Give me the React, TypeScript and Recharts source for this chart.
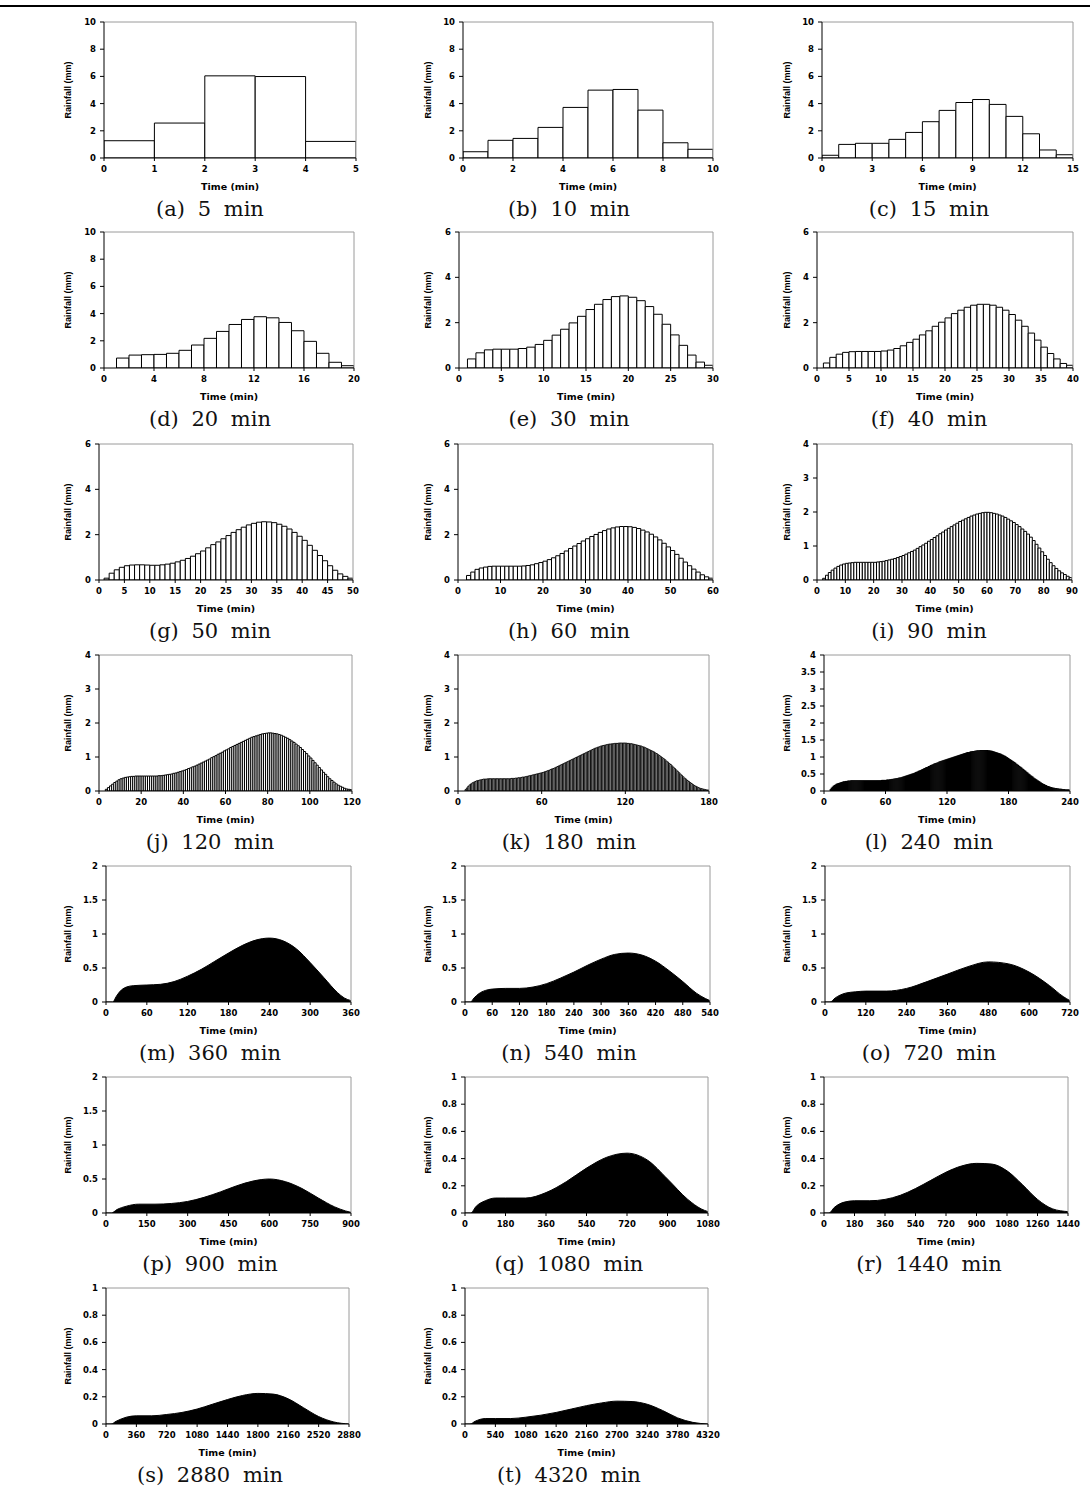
import React from "react";
import { ComposedChart, Bar, Area, XAxis, YAxis, ReferenceLine } from "recharts";

// (a)-(l): one bar per minute, rainfall in mm
const rain5 = [1.27, 2.57, 6.04, 5.99, 1.22];
const rain10 = [0.46, 1.3, 1.44, 2.25, 3.72, 4.99, 5.04, 3.52, 1.12, 0.64];
const rain15 = [0.2, 1.0, 1.08, 1.08, 1.37, 1.88, 2.67, 3.5, 4.08, 4.3, 3.94, 3.06, 1.78, 0.59, 0.24];
const rain20 = [0, 0.73, 0.95, 0.98, 1.0, 1.08, 1.3, 1.69, 2.18, 2.69, 3.2, 3.57, 3.77, 3.69, 3.35, 2.74, 1.96, 1.08, 0.42, 0.17];
const rain30 = [
  0, 0.4, 0.67, 0.8, 0.83, 0.83, 0.83, 0.86, 0.92, 1.04, 1.22, 1.45, 1.71, 1.99, 2.28,
  2.58, 2.81, 3.02, 3.15, 3.18, 3.12, 2.97, 2.71, 2.37, 1.93, 1.46, 1.0, 0.57, 0.26, 0.12,
];
const rain40 = [
  0, 0.22, 0.47, 0.61, 0.69, 0.72, 0.73, 0.73, 0.73, 0.73,
  0.75, 0.79, 0.86, 0.98, 1.13, 1.27, 1.46, 1.64, 1.84, 2.02,
  2.21, 2.4, 2.55, 2.68, 2.77, 2.81, 2.81, 2.77, 2.68, 2.55,
  2.36, 2.11, 1.84, 1.54, 1.23, 0.92, 0.64, 0.4, 0.2, 0.12,
];
const rain50 = [
  0, 0.08, 0.3, 0.45, 0.56, 0.63, 0.66, 0.67, 0.67, 0.66,
  0.65, 0.65, 0.67, 0.7, 0.74, 0.8, 0.87, 0.95, 1.05, 1.16,
  1.28, 1.42, 1.56, 1.68, 1.82, 1.96, 2.1, 2.22, 2.33, 2.43,
  2.5, 2.55, 2.57, 2.56, 2.53, 2.46, 2.37, 2.25, 2.1, 1.93,
  1.75, 1.53, 1.31, 1.08, 0.85, 0.63, 0.43, 0.27, 0.16, 0.08,
];
const rain60 = [
  0, 0, 0.2, 0.35, 0.47, 0.53, 0.57, 0.6, 0.61, 0.61,
  0.61, 0.61, 0.61, 0.61, 0.61, 0.62, 0.64, 0.67, 0.72, 0.77,
  0.83, 0.9, 0.98, 1.07, 1.17, 1.28, 1.39, 1.5, 1.61, 1.72,
  1.82, 1.92, 2.01, 2.1, 2.18, 2.25, 2.3, 2.34, 2.36, 2.36,
  2.35, 2.32, 2.27, 2.2, 2.12, 2.02, 1.9, 1.77, 1.62, 1.46,
  1.3, 1.13, 0.96, 0.79, 0.63, 0.48, 0.35, 0.23, 0.14, 0.08,
];
const rain90 = [
  0, 0, 0.05, 0.14, 0.22, 0.29, 0.35, 0.4, 0.44, 0.47,
  0.49, 0.5, 0.51, 0.52, 0.52, 0.52, 0.52, 0.52, 0.52, 0.52,
  0.52, 0.53, 0.54, 0.55, 0.57, 0.59, 0.61, 0.63, 0.66, 0.69,
  0.72, 0.76, 0.8, 0.84, 0.88, 0.93, 0.98, 1.03, 1.08, 1.14,
  1.19, 1.25, 1.3, 1.36, 1.41, 1.47, 1.52, 1.57, 1.62, 1.67,
  1.72, 1.76, 1.8, 1.84, 1.88, 1.91, 1.94, 1.96, 1.98, 1.99,
  1.99, 1.98, 1.96, 1.94, 1.91, 1.88, 1.84, 1.79, 1.74, 1.69,
  1.63, 1.57, 1.5, 1.43, 1.35, 1.26, 1.16, 1.05, 0.94, 0.83,
  0.72, 0.61, 0.51, 0.42, 0.34, 0.27, 0.21, 0.16, 0.11, 0.07,
];
const rain120 = [
  0, 0, 0, 0.05, 0.1, 0.15, 0.2, 0.25, 0.29, 0.33,
  0.36, 0.38, 0.4, 0.41, 0.42, 0.43, 0.43, 0.44, 0.44, 0.44,
  0.44, 0.44, 0.44, 0.44, 0.44, 0.44, 0.44, 0.44, 0.45, 0.45,
  0.46, 0.47, 0.48, 0.49, 0.5, 0.52, 0.53, 0.55, 0.57, 0.59,
  0.61, 0.63, 0.66, 0.68, 0.71, 0.73, 0.76, 0.79, 0.82, 0.85,
  0.88, 0.91, 0.94, 0.98, 1.01, 1.04, 1.08, 1.11, 1.14, 1.18,
  1.21, 1.24, 1.28, 1.31, 1.34, 1.37, 1.4, 1.43, 1.46, 1.49,
  1.52, 1.55, 1.58, 1.6, 1.62, 1.64, 1.66, 1.68, 1.69, 1.7,
  1.71, 1.71, 1.7, 1.69, 1.68, 1.66, 1.64, 1.61, 1.58, 1.55,
  1.51, 1.47, 1.43, 1.38, 1.33, 1.28, 1.22, 1.16, 1.1, 1.03,
  0.97, 0.9, 0.83, 0.76, 0.69, 0.62, 0.55, 0.49, 0.42, 0.36,
  0.31, 0.26, 0.21, 0.17, 0.14, 0.11, 0.08, 0.06, 0.05, 0.04,
];
const rain180 = [
  0, 0, 0, 0, 0, 0.04, 0.09, 0.14, 0.18, 0.21,
  0.24, 0.26, 0.28, 0.3, 0.31, 0.32, 0.33, 0.34, 0.35, 0.35,
  0.35, 0.36, 0.36, 0.36, 0.36, 0.36, 0.36, 0.36, 0.36, 0.36,
  0.36, 0.36, 0.36, 0.36, 0.36, 0.36, 0.36, 0.36, 0.37, 0.37,
  0.37, 0.38, 0.38, 0.39, 0.39, 0.4, 0.41, 0.41, 0.42, 0.43,
  0.44, 0.45, 0.46, 0.47, 0.48, 0.49, 0.5, 0.51, 0.52, 0.53,
  0.54, 0.55, 0.57, 0.58, 0.6, 0.61, 0.63, 0.65, 0.66, 0.68,
  0.7, 0.72, 0.74, 0.76, 0.78, 0.8, 0.82, 0.84, 0.86, 0.88,
  0.9, 0.92, 0.94, 0.96, 0.98, 1.0, 1.02, 1.04, 1.06, 1.08,
  1.1, 1.12, 1.14, 1.16, 1.18, 1.2, 1.22, 1.24, 1.26, 1.27,
  1.29, 1.3, 1.32, 1.33, 1.34, 1.35, 1.36, 1.37, 1.38, 1.38,
  1.39, 1.39, 1.4, 1.4, 1.4, 1.41, 1.41, 1.41, 1.41, 1.41,
  1.41, 1.4, 1.4, 1.39, 1.39, 1.38, 1.37, 1.36, 1.35, 1.34,
  1.33, 1.32, 1.3, 1.29, 1.27, 1.25, 1.23, 1.21, 1.19, 1.17,
  1.15, 1.12, 1.1, 1.07, 1.04, 1.01, 0.98, 0.95, 0.92, 0.88,
  0.85, 0.81, 0.78, 0.74, 0.7, 0.66, 0.62, 0.58, 0.54, 0.5,
  0.46, 0.42, 0.38, 0.35, 0.31, 0.28, 0.25, 0.22, 0.19, 0.16,
  0.14, 0.12, 0.1, 0.08, 0.07, 0.06, 0.05, 0.04, 0.03, 0.03,
];
const rain240 = [
  0, 0, 0, 0, 0, 0, 0.04, 0.08, 0.11, 0.14,
  0.16, 0.18, 0.2, 0.21, 0.22, 0.23, 0.24, 0.25, 0.26, 0.27,
  0.27, 0.28, 0.28, 0.29, 0.29, 0.29, 0.3, 0.3, 0.3, 0.3,
  0.3, 0.3, 0.3, 0.3, 0.3, 0.3, 0.3, 0.3, 0.3, 0.3,
  0.3, 0.3, 0.3, 0.3, 0.3, 0.3, 0.3, 0.3, 0.3, 0.3,
  0.3, 0.3, 0.3, 0.3, 0.3, 0.3, 0.31, 0.31, 0.31, 0.31,
  0.31, 0.32, 0.32, 0.32, 0.33, 0.33, 0.34, 0.34, 0.35, 0.35,
  0.36, 0.36, 0.37, 0.38, 0.38, 0.39, 0.4, 0.41, 0.42, 0.43,
  0.44, 0.45, 0.46, 0.47, 0.48, 0.49, 0.5, 0.51, 0.52, 0.54,
  0.55, 0.56, 0.58, 0.59, 0.6, 0.62, 0.63, 0.65, 0.66, 0.68,
  0.69, 0.7, 0.72, 0.73, 0.75, 0.76, 0.77, 0.79, 0.8, 0.81,
  0.82, 0.83, 0.85, 0.86, 0.87, 0.88, 0.89, 0.9, 0.91, 0.92,
  0.93, 0.94, 0.95, 0.96, 0.97, 0.98, 0.99, 1.0, 1.01, 1.02,
  1.03, 1.04, 1.05, 1.06, 1.07, 1.08, 1.09, 1.1, 1.11, 1.12,
  1.13, 1.13, 1.14, 1.15, 1.15, 1.16, 1.16, 1.17, 1.17, 1.18,
  1.18, 1.18, 1.19, 1.19, 1.19, 1.19, 1.19, 1.19, 1.19, 1.19,
  1.18, 1.18, 1.17, 1.17, 1.16, 1.15, 1.14, 1.13, 1.12, 1.11,
  1.1, 1.09, 1.08, 1.06, 1.05, 1.03, 1.02, 1.0, 0.98, 0.96,
  0.94, 0.92, 0.9, 0.88, 0.86, 0.84, 0.82, 0.79, 0.77, 0.75,
  0.72, 0.7, 0.68, 0.65, 0.63, 0.6, 0.58, 0.55, 0.53, 0.5,
  0.48, 0.45, 0.43, 0.41, 0.38, 0.36, 0.34, 0.32, 0.3, 0.28,
  0.26, 0.24, 0.22, 0.2, 0.19, 0.17, 0.16, 0.14, 0.13, 0.12,
  0.11, 0.1, 0.09, 0.08, 0.08, 0.07, 0.07, 0.06, 0.06, 0.05,
  0.05, 0.05, 0.04, 0.04, 0.04, 0.03, 0.03, 0.03, 0.03, 0.03,
];

// (m)-(t): the bars are too dense to tell apart, so the outline is read at a few times
const time360 = [0, 10, 15, 20, 30, 40, 60, 80, 100, 120, 140, 160, 180, 200, 220, 240, 260, 280, 300, 320, 340, 350, 360];
const rain360 = [0, 0, 0.08, 0.15, 0.22, 0.24, 0.25, 0.26, 0.3, 0.38, 0.48, 0.6, 0.72, 0.83, 0.91, 0.94, 0.9, 0.78, 0.58, 0.36, 0.14, 0.06, 0.02];
const time540 = [0, 12, 20, 30, 45, 60, 90, 120, 150, 180, 210, 240, 270, 300, 330, 360, 390, 420, 450, 480, 510, 530, 540];
const rain540 = [0, 0, 0.06, 0.12, 0.17, 0.19, 0.2, 0.2, 0.22, 0.27, 0.35, 0.44, 0.54, 0.63, 0.7, 0.72, 0.69, 0.6, 0.46, 0.3, 0.13, 0.05, 0.02];
const time720 = [0, 15, 30, 60, 90, 120, 180, 240, 300, 360, 420, 480, 540, 600, 660, 700, 720];
const rain720 = [0, 0, 0.06, 0.13, 0.15, 0.16, 0.16, 0.2, 0.3, 0.41, 0.52, 0.59, 0.56, 0.44, 0.24, 0.08, 0.02];
const time900 = [0, 20, 40, 75, 120, 180, 240, 300, 360, 420, 480, 540, 600, 660, 720, 780, 840, 880, 900];
const rain900 = [0, 0, 0.05, 0.1, 0.13, 0.13, 0.14, 0.17, 0.23, 0.31, 0.4, 0.47, 0.5, 0.46, 0.36, 0.22, 0.09, 0.03, 0.01];
const time1080 = [0, 25, 50, 90, 135, 180, 270, 360, 450, 540, 630, 720, 810, 900, 990, 1050, 1080];
const rain1080 = [0, 0, 0.05, 0.09, 0.11, 0.11, 0.11, 0.15, 0.23, 0.33, 0.41, 0.44, 0.39, 0.25, 0.1, 0.03, 0.01];
const time1440 = [0, 30, 60, 120, 180, 270, 360, 450, 540, 630, 720, 810, 900, 990, 1080, 1170, 1260, 1350, 1440];
const rain1440 = [0, 0, 0.04, 0.08, 0.09, 0.09, 0.1, 0.13, 0.18, 0.24, 0.3, 0.345, 0.365, 0.36, 0.31, 0.21, 0.1, 0.03, 0.01];
const time2880 = [0, 60, 120, 240, 360, 540, 720, 900, 1080, 1260, 1440, 1620, 1800, 1980, 2160, 2340, 2520, 2700, 2880];
const rain2880 = [0, 0, 0.02, 0.05, 0.06, 0.06, 0.07, 0.085, 0.11, 0.145, 0.18, 0.21, 0.225, 0.22, 0.185, 0.12, 0.055, 0.015, 0];
const time4320 = [0, 90, 180, 360, 540, 810, 1080, 1350, 1620, 1890, 2160, 2430, 2700, 2970, 3240, 3510, 3780, 4050, 4320];
const rain4320 = [0, 0, 0.02, 0.04, 0.04, 0.04, 0.05, 0.065, 0.085, 0.11, 0.135, 0.155, 0.168, 0.165, 0.145, 0.1, 0.045, 0.012, 0];

// tick labels
const yTen = [0, 2, 4, 6, 8, 10];
const ySix = [0, 2, 4, 6];
const yFour = [0, 1, 2, 3, 4];
const yFourHalf = [0, 0.5, 1, 1.5, 2, 2.5, 3, 3.5, 4];
const yTwo = [0, 0.5, 1, 1.5, 2];
const yOne = [0, 0.2, 0.4, 0.6, 0.8, 1];

const xt5 = [0, 1, 2, 3, 4, 5];
const xt10 = [0, 2, 4, 6, 8, 10];
const xt15 = [0, 3, 6, 9, 12, 15];
const xt20 = [0, 4, 8, 12, 16, 20];
const xt30 = [0, 5, 10, 15, 20, 25, 30];
const xt40 = [0, 5, 10, 15, 20, 25, 30, 35, 40];
const xt50 = [0, 5, 10, 15, 20, 25, 30, 35, 40, 45, 50];
const xt60 = [0, 10, 20, 30, 40, 50, 60];
const xt90 = [0, 10, 20, 30, 40, 50, 60, 70, 80, 90];
const xt120 = [0, 20, 40, 60, 80, 100, 120];
const xt180 = [0, 60, 120, 180];
const xt240 = [0, 60, 120, 180, 240];
const xt360 = [0, 60, 120, 180, 240, 300, 360];
const xt540 = [0, 60, 120, 180, 240, 300, 360, 420, 480, 540];
const xt720 = [0, 120, 240, 360, 480, 600, 720];
const xt900 = [0, 150, 300, 450, 600, 750, 900];
const xt1080 = [0, 180, 360, 540, 720, 900, 1080];
const xt1440 = [0, 180, 360, 540, 720, 900, 1080, 1260, 1440];
const xt2880 = [0, 360, 720, 1080, 1440, 1800, 2160, 2520, 2880];
const xt4320 = [0, 540, 1080, 1620, 2160, 2700, 3240, 3780, 4320];

type Panel = {
  tag: string;
  dur: number;
  yMax: number;
  yTicks: number[];
  xTicks: number[];
  bars?: number[];
  times?: number[];
  curve?: number[];
  row: number;
  col: number;
  pl: number;
  pr: number;
};

const panels: Panel[] = [
  { tag: "a", dur: 5, bars: rain5, yMax: 10, yTicks: yTen, xTicks: xt5, row: 0, col: 0, pl: 104, pr: 356 },
  { tag: "b", dur: 10, bars: rain10, yMax: 10, yTicks: yTen, xTicks: xt10, row: 0, col: 1, pl: 463, pr: 713 },
  { tag: "c", dur: 15, bars: rain15, yMax: 10, yTicks: yTen, xTicks: xt15, row: 0, col: 2, pl: 822, pr: 1073 },
  { tag: "d", dur: 20, bars: rain20, yMax: 10, yTicks: yTen, xTicks: xt20, row: 1, col: 0, pl: 104, pr: 354 },
  { tag: "e", dur: 30, bars: rain30, yMax: 6, yTicks: ySix, xTicks: xt30, row: 1, col: 1, pl: 459, pr: 713 },
  { tag: "f", dur: 40, bars: rain40, yMax: 6, yTicks: ySix, xTicks: xt40, row: 1, col: 2, pl: 817, pr: 1073 },
  { tag: "g", dur: 50, bars: rain50, yMax: 6, yTicks: ySix, xTicks: xt50, row: 2, col: 0, pl: 99, pr: 353 },
  { tag: "h", dur: 60, bars: rain60, yMax: 6, yTicks: ySix, xTicks: xt60, row: 2, col: 1, pl: 458, pr: 713 },
  { tag: "i", dur: 90, bars: rain90, yMax: 4, yTicks: yFour, xTicks: xt90, row: 2, col: 2, pl: 817, pr: 1072 },
  { tag: "j", dur: 120, bars: rain120, yMax: 4, yTicks: yFour, xTicks: xt120, row: 3, col: 0, pl: 99, pr: 352 },
  { tag: "k", dur: 180, bars: rain180, yMax: 4, yTicks: yFour, xTicks: xt180, row: 3, col: 1, pl: 458, pr: 709 },
  { tag: "l", dur: 240, bars: rain240, yMax: 4, yTicks: yFourHalf, xTicks: xt240, row: 3, col: 2, pl: 824, pr: 1070 },
  { tag: "m", dur: 360, times: time360, curve: rain360, yMax: 2, yTicks: yTwo, xTicks: xt360, row: 4, col: 0, pl: 106, pr: 351 },
  { tag: "n", dur: 540, times: time540, curve: rain540, yMax: 2, yTicks: yTwo, xTicks: xt540, row: 4, col: 1, pl: 465, pr: 710 },
  { tag: "o", dur: 720, times: time720, curve: rain720, yMax: 2, yTicks: yTwo, xTicks: xt720, row: 4, col: 2, pl: 825, pr: 1070 },
  { tag: "p", dur: 900, times: time900, curve: rain900, yMax: 2, yTicks: yTwo, xTicks: xt900, row: 5, col: 0, pl: 106, pr: 351 },
  { tag: "q", dur: 1080, times: time1080, curve: rain1080, yMax: 1, yTicks: yOne, xTicks: xt1080, row: 5, col: 1, pl: 465, pr: 708 },
  { tag: "r", dur: 1440, times: time1440, curve: rain1440, yMax: 1, yTicks: yOne, xTicks: xt1440, row: 5, col: 2, pl: 824, pr: 1068 },
  { tag: "s", dur: 2880, times: time2880, curve: rain2880, yMax: 1, yTicks: yOne, xTicks: xt2880, row: 6, col: 0, pl: 106, pr: 349 },
  { tag: "t", dur: 4320, times: time4320, curve: rain4320, yMax: 1, yTicks: yOne, xTicks: xt4320, row: 6, col: 1, pl: 465, pr: 708 },
];

const ROW_TOP = [22, 232, 444, 655, 866, 1077, 1288];
const PLOT_H = 136;
const LABEL_X = [68, 428, 787];
const CAPTION_X = [210, 569, 929];
const Y_W = 40;
const TOP_PAD = 6;
const RIGHT_PAD = 14;
const X_H = 22;

const tickFont = {
  fontSize: 8.5,
  fontFamily: "'DejaVu Sans', sans-serif",
  fontWeight: 700,
  fill: "#000",
};

const midpoints = (ticks: number[]) => ticks.slice(1).map((v, i) => (v + ticks[i]) / 2);

function RainPanel({ p }: { p: Panel }) {
  const pt = ROW_TOP[p.row];
  const pb = pt + PLOT_H;
  const plotW = p.pr - p.pl;
  const isBar = !!p.bars;
  // bars sit at mid-minute on the time axis, one minute wide
  const data = isBar
    ? p.bars!.map((v, i) => ({ t: i + 0.5, v }))
    : p.times!.map((t, k) => ({ t, v: p.curve![k] }));

  return (
    <>
      <div style={{ position: "absolute", left: p.pl - Y_W, top: pt - TOP_PAD }}>
        <ComposedChart
          width={Y_W + plotW + RIGHT_PAD}
          height={TOP_PAD + PLOT_H + X_H}
          data={data}
          margin={{ top: TOP_PAD, right: RIGHT_PAD, bottom: 0, left: 0 }}
          barCategoryGap={0}
          barGap={0}
        >
          {/* minor ticks first, with no size, so the labelled axes keep their place */}
          <XAxis
            xAxisId="minor"
            type="number"
            domain={[0, p.dur]}
            ticks={midpoints(p.xTicks)}
            interval={0}
            height={0}
            mirror
            tick={false}
            tickSize={2}
            axisLine={false}
            stroke="#000"
            allowDataOverflow
          />
          <YAxis
            yAxisId="minor"
            type="number"
            domain={[0, p.yMax]}
            ticks={midpoints(p.yTicks)}
            interval={0}
            width={0}
            tick={false}
            tickSize={2.5}
            axisLine={false}
            stroke="#000"
            allowDataOverflow
          />
          <XAxis
            dataKey="t"
            type="number"
            domain={[0, p.dur]}
            ticks={p.xTicks}
            interval={0}
            height={X_H}
            tickSize={3}
            tickMargin={5}
            tick={tickFont}
            stroke="#000"
            allowDataOverflow
          />
          <YAxis
            type="number"
            domain={[0, p.yMax]}
            ticks={p.yTicks}
            interval={0}
            width={Y_W}
            tickSize={4}
            tickMargin={4}
            tick={tickFont}
            stroke="#000"
            allowDataOverflow
          />
          <ReferenceLine y={p.yMax} stroke="#9a9a9a" />
          <ReferenceLine x={p.dur} stroke="#9a9a9a" />
          {isBar ? (
            <Bar
              dataKey="v"
              barSize={plotW / p.dur - 0.02}
              fill="#fff"
              stroke="#000"
              strokeWidth={p.dur >= 240 ? 1.1 : p.dur >= 180 ? 0.9 : 1}
              isAnimationActive={false}
            />
          ) : (
            <Area
              dataKey="v"
              type="monotone"
              fill="#000"
              fillOpacity={1}
              stroke="#000"
              strokeWidth={1}
              dot={false}
              isAnimationActive={false}
            />
          )}
        </ComposedChart>
      </div>
      <div
        style={{
          position: "absolute",
          left: LABEL_X[p.col],
          top: (pt + pb) / 2,
          transform: "translate(-50%, -50%) rotate(-90deg)",
          fontFamily: "'Liberation Sans', Arial, sans-serif",
          fontWeight: 700,
          fontSize: 9,
          whiteSpace: "nowrap",
          lineHeight: 1,
        }}
      >
        Rainfall (mm)
      </div>
      <div
        style={{
          position: "absolute",
          left: (p.pl + p.pr) / 2,
          top: pb + 29,
          transform: "translate(-50%, -50%)",
          fontFamily: "'DejaVu Sans', sans-serif",
          fontWeight: 700,
          fontSize: 9.5,
          whiteSpace: "nowrap",
          lineHeight: 1,
        }}
      >
        Time (min)
      </div>
      <div
        style={{
          position: "absolute",
          left: CAPTION_X[p.col],
          top: pb + 51,
          transform: "translate(-50%, -50%)",
          fontFamily: "'DejaVu Serif', serif",
          fontSize: 21,
          color: "#111",
          whiteSpace: "nowrap",
          wordSpacing: 6,
          lineHeight: 1,
        }}
      >
        {`(${p.tag}) ${p.dur} min`}
      </div>
    </>
  );
}

export default function App() {
  return (
    <div
      style={{
        position: "absolute",
        left: 0,
        top: 0,
        width: 1090,
        height: 1491,
        background: "#fff",
      }}
    >
      <div style={{ position: "absolute", left: 0, top: 5, width: 1090, height: 1.5, background: "#000" }} />
      {panels.map((p) => (
        <RainPanel key={p.tag} p={p} />
      ))}
    </div>
  );
}
